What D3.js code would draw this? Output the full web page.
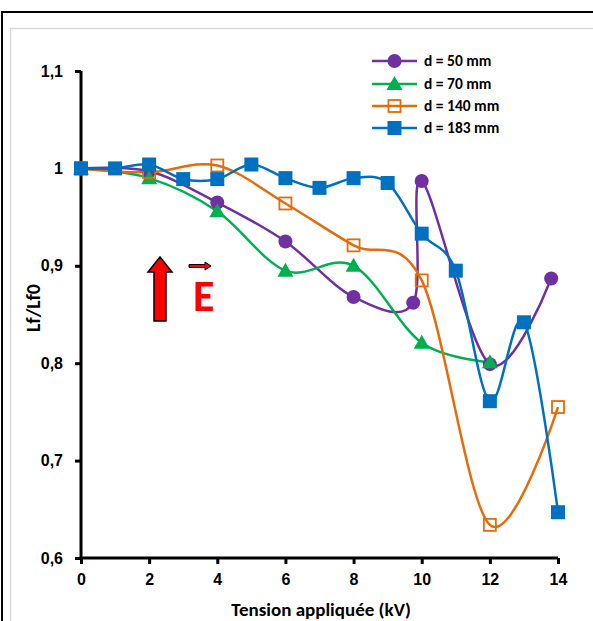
<!DOCTYPE html>
<html><head><meta charset="utf-8">
<script src="https://cdn.jsdelivr.net/npm/d3@7"></script>
<style>body{margin:0;background:#fff;} svg{display:block;font-family:Calibri,Carlito,"Liberation Sans",Arial,sans-serif;}</style>
</head><body>
<svg id="c" width="593" height="621"></svg>
<script>
const xTicks = [0, 2, 4, 6, 8, 10, 12, 14];
const yTicks = [0.6, 0.7, 0.8, 0.9, 1.0, 1.1];
const yTickLabels = ["0,6", "0,7", "0,8", "0,9", "1", "1,1"];

const d50x  = [0, 2, 4, 6, 8, 9.75, 10, 12, 13.8];
const d50y  = [1.0, 0.997, 0.965, 0.925, 0.868, 0.862, 0.987, 0.799, 0.887];
const d70x  = [0, 2, 4, 6, 8, 10, 12];
const d70y  = [1.0, 0.99, 0.956, 0.895, 0.9, 0.821, 0.801];
const d140x = [0, 2, 4, 6, 8, 10, 12, 14];
const d140y = [1.0, 0.996, 1.003, 0.964, 0.921, 0.885, 0.634, 0.755];
const d183x = [0, 1, 2, 3, 4, 5, 6, 7, 8, 9, 10, 11, 12, 13, 14];
const d183y = [1.0, 1.0, 1.004, 0.989, 0.989, 1.004, 0.99, 0.98, 0.99, 0.985, 0.933, 0.895, 0.761, 0.842, 0.647];

const seriesNames = ["d = 50 mm", "d = 70 mm", "d = 140 mm", "d = 183 mm"];
const series = [
  {name: seriesNames[0], xs: d50x, ys: d50y, color: "#7030A0", marker: "circle"},
  {name: seriesNames[1], xs: d70x, ys: d70y, color: "#00B050", marker: "triangle"},
  {name: seriesNames[2], xs: d140x, ys: d140y, color: "#E46C0A", marker: "openSquare"},
  {name: seriesNames[3], xs: d183x, ys: d183y, color: "#0070C0", marker: "square"}
];

const svg = d3.select("#c");
// frames
svg.append("rect").attr("x", 2).attr("y", 12).attr("width", 600).attr("height", 620)
  .attr("fill", "none").attr("stroke", "#000").attr("stroke-width", 2);
svg.append("rect").attr("x", 10.5).attr("y", 28.5).attr("width", 600).attr("height", 620)
  .attr("fill", "none").attr("stroke", "#d9d9d9").attr("stroke-width", 1.5);

const x = d3.scaleLinear().domain([0, 14]).range([81, 558]);
const y = d3.scaleLinear().domain([0.6, 1.1]).range([558, 71]);

// axes
const yAxis = d3.axisLeft(y).tickValues(yTicks).tickSize(6).tickPadding(12)
  .tickFormat((d, i) => yTickLabels[i]);
const gy = svg.append("g").attr("transform", "translate(81,0)").call(yAxis);
gy.select(".domain").attr("stroke", "#000").attr("stroke-width", 3).attr("d", "M0,71V558");
gy.selectAll(".tick line").attr("stroke", "#000").attr("stroke-width", 3);
gy.selectAll(".tick text").attr("font-size", 16).attr("font-weight", "bold").attr("fill", "#000");

const xAxis = d3.axisBottom(x).tickValues(xTicks).tickSize(6).tickPadding(10);
const gx = svg.append("g").attr("transform", "translate(0,558)").call(xAxis);
gx.select(".domain").attr("stroke", "#000").attr("stroke-width", 3).attr("d", "M81,0H558");
gx.selectAll(".tick line").attr("stroke", "#000").attr("stroke-width", 3);
gx.selectAll(".tick text").attr("font-size", 16).attr("font-weight", "bold").attr("fill", "#000");

svg.append("text").attr("x", 321).attr("y", 616).attr("text-anchor", "middle")
  .attr("font-size", 19).attr("font-weight", "bold").text("Tension appliquée (kV)");
svg.append("text").attr("transform", "translate(40,308) rotate(-90)").attr("text-anchor", "middle")
  .attr("font-size", 20).attr("font-weight", "bold").text("Lf/Lf0");

// lines
const line = d3.line().x(d => x(d[0])).y(d => y(d[1])).curve(d3.curveCatmullRom.alpha(0));
series.forEach(s => {
  const pts = s.xs.map((v, i) => [v, s.ys[i]]);
  s.pts = pts;
  svg.append("path").attr("d", line(pts)).attr("fill", "none")
    .attr("stroke", s.color).attr("stroke-width", 2.5);
});

function drawMarker(g, type, cx, cy, color) {
  if (type === "circle") {
    g.append("circle").attr("cx", cx).attr("cy", cy).attr("r", 7).attr("fill", color);
  } else if (type === "triangle") {
    g.append("path").attr("d", `M${cx},${cy-8}L${cx+8},${cy+6}L${cx-8},${cy+6}Z`).attr("fill", color);
  } else if (type === "square") {
    g.append("rect").attr("x", cx - 7).attr("y", cy - 7).attr("width", 14).attr("height", 14).attr("fill", color);
  } else if (type === "openSquare") {
    g.append("rect").attr("x", cx - 6).attr("y", cy - 6).attr("width", 12).attr("height", 12)
      .attr("fill", "#fff").attr("fill-opacity", 0).attr("stroke", color).attr("stroke-width", 1.8);
  }
}
series.forEach(s => {
  const g = svg.append("g");
  s.pts.forEach(p => drawMarker(g, s.marker, x(p[0]), y(p[1]), s.color));
});

// legend
const legY = [61, 84, 106, 128];
series.forEach((s, i) => {
  const g = svg.append("g");
  g.append("line").attr("x1", 372).attr("x2", 417).attr("y1", legY[i]).attr("y2", legY[i])
    .attr("stroke", s.color).attr("stroke-width", 2.5);
  drawMarker(g, s.marker, 394.5, legY[i], s.color);
  g.append("text").attr("x", 424).attr("y", legY[i] + 5).attr("font-size", 15.5)
    .attr("font-weight", "bold").text(s.name);
});

// arrow annotations
svg.append("path").attr("d", "M160,257L172,272L166,272L166,321L154,321L154,272L148,272Z")
  .attr("fill", "#ff0000").attr("stroke", "#000").attr("stroke-width", 1.5);
svg.append("path").attr("d", "M189,264.5L205,264.5L205,262L211,266L205,270L205,267.5L189,267.5Z")
  .attr("fill", "#ff0000").attr("stroke", "#000").attr("stroke-width", 1);
svg.append("text").attr("x", 193).attr("y", 311).attr("font-size", 44).attr("font-weight", "bold")
  .attr("fill", "#ff0000").text("E");
</script>
</body></html>
